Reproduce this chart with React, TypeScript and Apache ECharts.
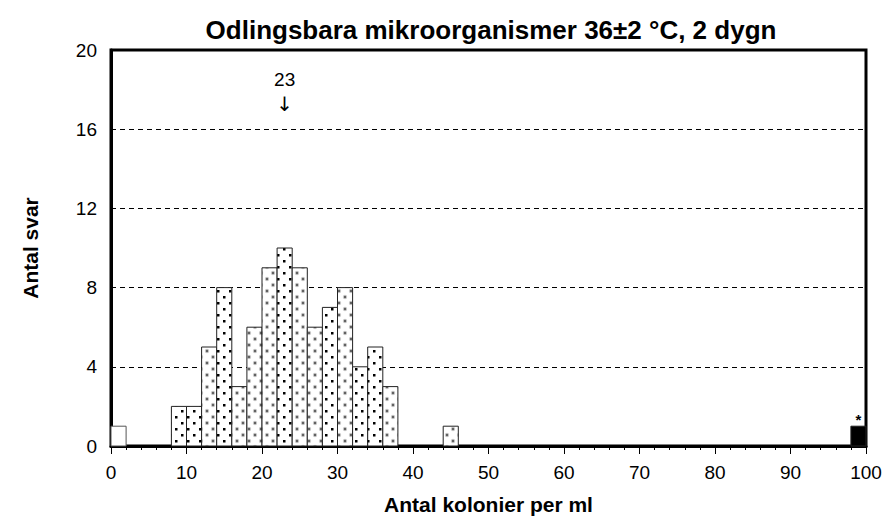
import React, { useEffect, useRef } from "react";
import * as echarts from "echarts";

const TITLE = "Odlingsbara mikroorganismer 36±2 °C, 2 dygn";
const X_NAME = "Antal kolonier per ml";
const Y_NAME = "Antal svar";

const binWidth = 2;
const binStarts = [0, 8, 10, 12, 14, 16, 18, 20, 22, 24, 26, 28, 30, 32, 34, 36, 44, 98];
const counts = [1, 2, 2, 5, 8, 3, 6, 9, 10, 9, 6, 7, 8, 4, 5, 3, 1, 1];
const fillKinds = [
  "white", "black", "black", "grey", "black", "grey", "grey", "grey", "black",
  "grey", "grey", "black", "grey", "black", "black", "grey", "grey", "solid",
];
const barMarks = ["", "", "", "", "", "", "", "", "", "", "", "", "", "", "", "", "", "*"];

const medianValue = 23;
const medianLabelY = 18;

const FONT = "'Liberation Sans', Arial, sans-serif";

function makePattern(kind: string): any {
  if (kind === "white") return "#ffffff";
  if (kind === "solid") return "#000000";
  const s = 12;
  const c = document.createElement("canvas");
  c.width = s;
  c.height = s;
  const ctx = c.getContext("2d")!;
  ctx.fillStyle = "#ffffff";
  ctx.fillRect(0, 0, s, s);
  if (kind === "black") {
    ctx.fillStyle = "#000000";
    ctx.fillRect(1, 2, 2.5, 2.5);
    ctx.fillRect(7, 8, 2.5, 2.5);
  } else {
    const pts = [
      [3, 3],
      [9, 9],
    ];
    for (const [x, y] of pts) {
      ctx.fillStyle = "#cccccc";
      ctx.beginPath();
      ctx.arc(x, y, 2.2, 0, Math.PI * 2);
      ctx.fill();
      ctx.fillStyle = "#606060";
      ctx.beginPath();
      ctx.arc(x, y, 1.2, 0, Math.PI * 2);
      ctx.fill();
    }
  }
  return { image: c, repeat: "repeat" };
}

export default function App() {
  const ref = useRef<HTMLDivElement>(null);

  useEffect(() => {
    document.body.style.margin = "0";
    if (!ref.current) return;
    const chart = echarts.init(ref.current, undefined, { renderer: "svg" });

    const patterns: Record<string, any> = {
      white: makePattern("white"),
      black: makePattern("black"),
      grey: makePattern("grey"),
      solid: makePattern("solid"),
    };

    const data = binStarts.map((s, i) => [s, s + binWidth, counts[i]]);

    const option: any = {
      animation: false,
      backgroundColor: "#ffffff",
      textStyle: { fontFamily: FONT },
      title: {
        text: TITLE,
        left: 486,
        textAlign: "center",
        top: 12,
        textStyle: { fontFamily: FONT, fontSize: 26, fontWeight: "bold", color: "#000" },
      },
      grid: {
        left: 111,
        right: 20,
        top: 50,
        bottom: 73,
        show: true,
        borderColor: "#000",
        borderWidth: 3,
        containLabel: false,
      },
      xAxis: {
        type: "value",
        min: 0,
        max: 100,
        interval: 10,
        name: X_NAME,
        nameLocation: "middle",
        nameGap: 48,
        nameTextStyle: { fontFamily: FONT, fontSize: 21, fontWeight: "bold", color: "#000" },
        axisLine: { show: true, onZero: false, lineStyle: { color: "#000", width: 3 } },
        axisTick: { show: true, length: 8, lineStyle: { color: "#000", width: 1 } },
        minorTick: { show: true, splitNumber: 5, length: 4, lineStyle: { color: "#000", width: 1 } },
        axisLabel: { fontFamily: FONT, fontSize: 19, color: "#000", margin: 17 },
        splitLine: { show: false },
      },
      yAxis: {
        type: "value",
        min: 0,
        max: 20,
        interval: 4,
        name: Y_NAME,
        nameLocation: "middle",
        nameGap: 70,
        nameTextStyle: { fontFamily: FONT, fontSize: 21, fontWeight: "bold", color: "#000" },
        axisLine: { show: true, lineStyle: { color: "#000", width: 3 } },
        axisTick: { show: false },
        axisLabel: { fontFamily: FONT, fontSize: 19, color: "#000", margin: 14 },
        splitLine: { show: true, lineStyle: { color: "#000", width: 1, type: [5, 4] } },
      },
      series: [
        {
          type: "custom",
          data,
          clip: false,
          renderItem: (params: any, api: any) => {
            const x0 = api.value(0);
            const x1 = api.value(1);
            const v = api.value(2);
            const p0 = api.coord([x0, v]);
            const p1 = api.coord([x1, 0]);
            const idx = params.dataIndex;
            const kind = fillKinds[idx];
            const children: any[] = [
              {
                type: "rect",
                shape: { x: p0[0], y: p0[1], width: p1[0] - p0[0], height: p1[1] - p0[1] },
                style: {
                  fill: patterns[kind],
                  stroke: kind === "white" ? "#555" : "#222",
                  lineWidth: 1,
                },
              },
            ];
            if (barMarks[idx]) {
              children.push({
                type: "text",
                x: (p0[0] + p1[0]) / 2,
                y: p0[1] + 1,
                style: {
                  text: barMarks[idx],
                  fontFamily: FONT,
                  fontSize: 15,
                  fontWeight: "bold",
                  fill: "#000",
                  align: "center",
                  verticalAlign: "bottom",
                },
              });
            }
            return { type: "group", children };
          },
          z: 2,
        },
        {
          type: "custom",
          data: [[medianValue, medianLabelY]],
          silent: true,
          clip: false,
          renderItem: (params: any, api: any) => {
            const p = api.coord([api.value(0), api.value(1)]);
            return {
              type: "group",
              children: [
                {
                  type: "text",
                  x: p[0],
                  y: p[1] - 10,
                  style: {
                    text: String(medianValue),
                    fontFamily: FONT,
                    fontSize: 19,
                    fill: "#000",
                    align: "center",
                    verticalAlign: "middle",
                  },
                },
                {
                  type: "text",
                  x: p[0],
                  y: p[1] + 14,
                  style: {
                    text: "↓",
                    fontFamily: "'DejaVu Sans', sans-serif",
                    fontSize: 20,
                    fill: "#000",
                    align: "center",
                    verticalAlign: "middle",
                  },
                },
              ],
            };
          },
          z: 3,
        },
      ],
    };

    chart.setOption(option);
    return () => chart.dispose();
  }, []);

  return <div ref={ref} style={{ width: 886, height: 520 }} />;
}
